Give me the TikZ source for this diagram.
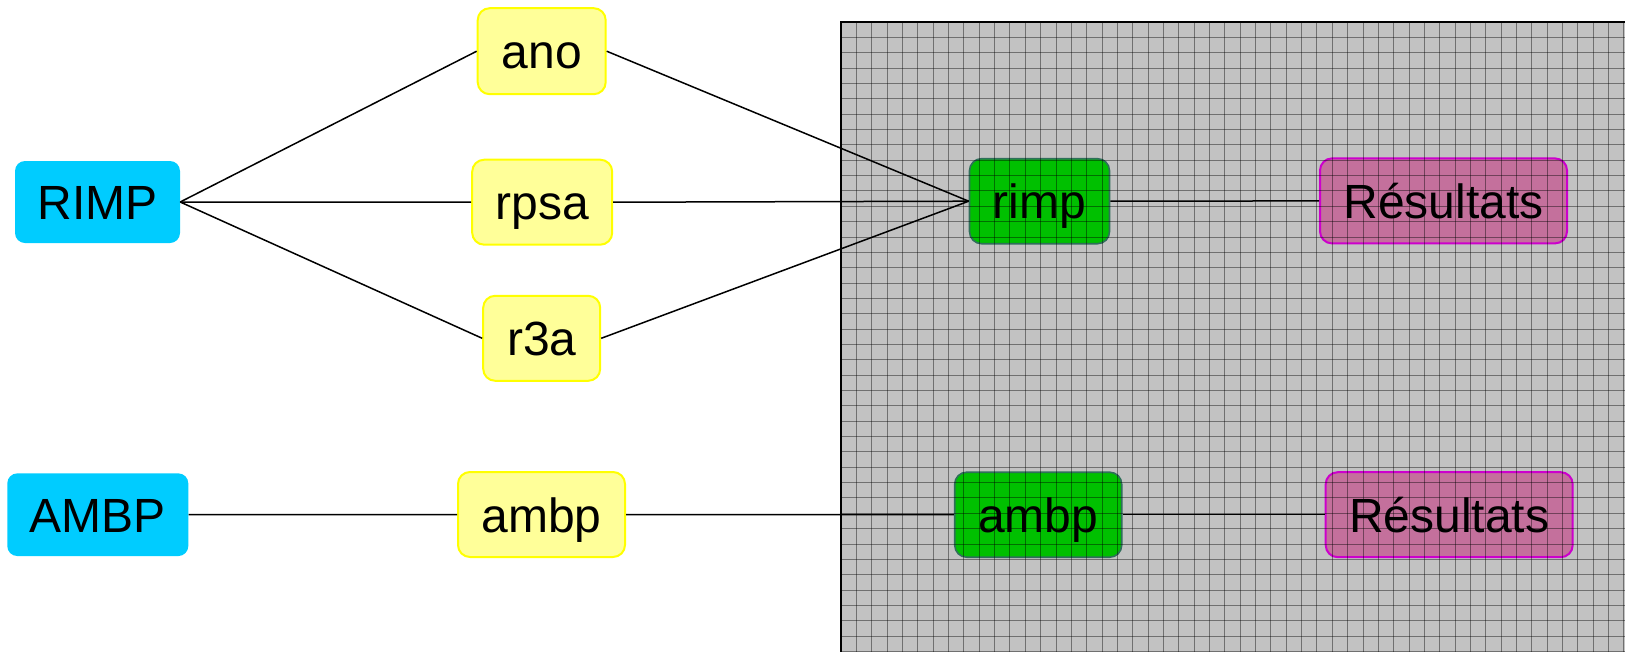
\documentclass[tikz,border=0pt]{standalone}
\usepackage{fontspec}
\setmainfont{Liberation Sans}
\definecolor{boxblue}{HTML}{00CCFF}
\definecolor{yfill}{HTML}{FFFF99}
\definecolor{ydraw}{HTML}{FFFF00}
\definecolor{gfill}{HTML}{00C000}
\definecolor{gdraw}{HTML}{2F6F5A}
\definecolor{pfill}{HTML}{C4709C}
\definecolor{pdraw}{HTML}{CC00CC}
\definecolor{bggray}{HTML}{C2C2C2}
\tikzset{
  base/.style={rounded corners=12pt, inner sep=0pt, text height=35pt, text depth=0pt,
    font=\fontsize{48}{56}\selectfont},
  srcbox/.style={base, fill=boxblue, rounded corners=10pt},
  ybox/.style={base, fill=yfill, draw=ydraw, line width=2pt},
  gbox/.style={base, fill=gfill, draw=gdraw, line width=1.6pt},
  pbox/.style={base, fill=pfill, draw=pdraw, line width=2pt},
  link/.style={line width=1.5pt, black},
  gridline/.style={line width=0.8pt, black, opacity=0.42},
}
\begin{document}
\begin{tikzpicture}[x=1pt,y=-1pt]
\useasboundingbox (0,0) rectangle (1625,651);
\clip (0,0) rectangle (1625,651);
% grey panel
\fill[bggray] (841,22) rectangle (1700,700);
% nodes
\node[srcbox, minimum width=165pt, minimum height=82pt] (RIMP) at (97.5,202) {RIMP};
\node[ybox, minimum width=128pt, minimum height=86pt] (ano) at (541.7,51.2) {ano};
\node[ybox, minimum width=140pt, minimum height=85pt] (rpsa) at (542.2,202.2) {rpsa};
\node[ybox, minimum width=117pt, minimum height=85pt] (r3a) at (541.7,338.3) {r3a};
\node[gbox, minimum width=140pt, minimum height=85pt] (rimp) at (1039.5,201.2) {rimp};
\node[pbox, minimum width=247pt, minimum height=85pt] (res1) at (1443.5,200.9) {Résultats};
\node[srcbox, minimum width=181pt, minimum height=82.7pt] (AMBP) at (97.8,514.7) {AMBP};
\node[ybox, minimum width=167pt, minimum height=85pt] (ambpY) at (541.5,514.5) {ambp};
\node[gbox, minimum width=167pt, minimum height=85pt] (ambpG) at (1038.2,514.7) {ambp};
\node[pbox, minimum width=247pt, minimum height=85pt] (res2) at (1449.2,514.7) {Résultats};
% connectors
\draw[link] (RIMP.east) -- (ano.west);
\draw[link] (RIMP.east) -- (rpsa.west);
\draw[link] (RIMP.east) -- (r3a.west);
\draw[link] (ano.east) -- (rimp.west);
\draw[link] (rpsa.east) -- (rimp.west);
\draw[link] (r3a.east) -- (rimp.west);
\draw[link] (rimp.east) -- (res1.west);
\draw[link] (AMBP.east) -- (ambpY.west);
\draw[link] (ambpY.east) -- (ambpG.west);
\draw[link] (ambpG.east) -- (res2.west);
% grid over the panel
\foreach \i in {1,...,52} {
  \pgfmathsetmacro\xx{841+\i*15.35}
  \draw[gridline] (\xx,22) -- (\xx,660);
}
\foreach \j in {1,...,42} {
  \pgfmathsetmacro\yy{22+\j*15.35}
  \draw[gridline] (841,\yy) -- (1640,\yy);
}
% panel border
\draw[line width=2pt, black] (841,700) -- (841,22) -- (1700,22);
\end{tikzpicture}
\end{document}
